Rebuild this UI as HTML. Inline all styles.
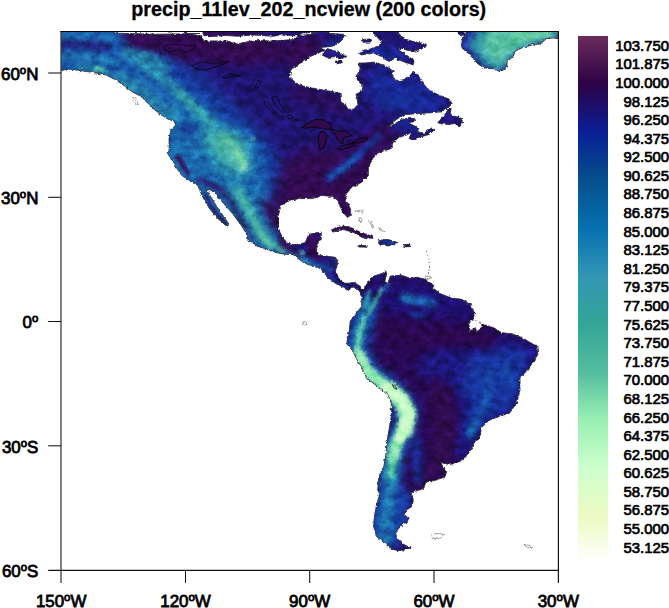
<!DOCTYPE html>
<html><head><meta charset="utf-8"><title>precip_11lev</title>
<style>
html,body{margin:0;padding:0;background:#fff;}
body{width:669px;height:608px;position:relative;overflow:hidden;font-family:"Liberation Sans",sans-serif;color:#000;}
#title{position:absolute;left:0;width:617.5px;top:-0.7px;-webkit-text-stroke:0.3px #000;text-align:center;font-weight:bold;font-size:19.72px;line-height:20px;white-space:nowrap;}
svg{position:absolute;left:0;top:0;}
#cb{position:absolute;left:578px;top:36px;width:30px;height:528px;background:linear-gradient(to bottom,rgb(106, 44, 90) 0.000%,rgb(44, 2, 70) 9.091%,rgb(10, 31, 150) 18.182%,rgb(5, 80, 140) 27.273%,rgb(5, 112, 176) 36.364%,rgb(50, 150, 180) 45.455%,rgb(50, 166, 150) 54.545%,rgb(83, 189, 159) 63.636%,rgb(153, 240, 178) 72.727%,rgb(205, 255, 205) 81.818%,rgb(237, 250, 194) 90.909%,rgb(255, 255, 255) 100.000%);}
.cl{position:absolute;right:0px;width:70px;text-align:right;font-size:14.9px;line-height:18px;height:18px;white-space:nowrap;-webkit-text-stroke:0.7px #000;}
.xl{position:absolute;top:592.7px;width:80px;text-align:center;font-size:16.9px;line-height:18px;white-space:nowrap;-webkit-text-stroke:0.8px #000;}
.d{font-size:0.68em;position:relative;top:-0.5em;}
.yl{position:absolute;left:0;width:38.4px;text-align:right;font-size:16.9px;line-height:18px;white-space:nowrap;-webkit-text-stroke:0.8px #000;}
</style></head><body>
<div id="title">precip_11lev_202_ncview (200 colors)</div>
<svg width="669" height="608" viewBox="0 0 669 608">
<defs><filter id="b1.5" filterUnits="userSpaceOnUse" x="0" y="0" width="669" height="608" color-interpolation-filters="sRGB"><feGaussianBlur stdDeviation="1.5"/></filter><filter id="b2" filterUnits="userSpaceOnUse" x="0" y="0" width="669" height="608" color-interpolation-filters="sRGB"><feGaussianBlur stdDeviation="2"/></filter><filter id="b2.5" filterUnits="userSpaceOnUse" x="0" y="0" width="669" height="608" color-interpolation-filters="sRGB"><feGaussianBlur stdDeviation="2.5"/></filter><filter id="b3" filterUnits="userSpaceOnUse" x="0" y="0" width="669" height="608" color-interpolation-filters="sRGB"><feGaussianBlur stdDeviation="3"/></filter><filter id="b3.5" filterUnits="userSpaceOnUse" x="0" y="0" width="669" height="608" color-interpolation-filters="sRGB"><feGaussianBlur stdDeviation="3.5"/></filter><filter id="b4" filterUnits="userSpaceOnUse" x="0" y="0" width="669" height="608" color-interpolation-filters="sRGB"><feGaussianBlur stdDeviation="4"/></filter><filter id="b5" filterUnits="userSpaceOnUse" x="0" y="0" width="669" height="608" color-interpolation-filters="sRGB"><feGaussianBlur stdDeviation="5"/></filter><filter id="b6" filterUnits="userSpaceOnUse" x="0" y="0" width="669" height="608" color-interpolation-filters="sRGB"><feGaussianBlur stdDeviation="6"/></filter><filter id="b7" filterUnits="userSpaceOnUse" x="0" y="0" width="669" height="608" color-interpolation-filters="sRGB"><feGaussianBlur stdDeviation="7"/></filter><filter id="b8" filterUnits="userSpaceOnUse" x="0" y="0" width="669" height="608" color-interpolation-filters="sRGB"><feGaussianBlur stdDeviation="8"/></filter><filter id="b10" filterUnits="userSpaceOnUse" x="0" y="0" width="669" height="608" color-interpolation-filters="sRGB"><feGaussianBlur stdDeviation="10"/></filter><filter id="b12" filterUnits="userSpaceOnUse" x="0" y="0" width="669" height="608" color-interpolation-filters="sRGB"><feGaussianBlur stdDeviation="12"/></filter>
<filter id="nz" filterUnits="userSpaceOnUse" x="55" y="25" width="510" height="550" color-interpolation-filters="sRGB"><feTurbulence type="fractalNoise" baseFrequency="0.11 0.14" numOctaves="3" seed="7" result="t"/><feColorMatrix in="t" type="matrix" values="0.9 0 0 0 0.05  0.9 0 0 0 0.05  0.9 0 0 0 0.05  0 0 0 0 1"/></filter>
<filter id="jag" filterUnits="userSpaceOnUse" x="55" y="25" width="510" height="550" color-interpolation-filters="sRGB"><feTurbulence type="fractalNoise" baseFrequency="0.35" numOctaves="2" seed="3" result="n"/><feDisplacementMap in="SourceGraphic" in2="n" scale="3.2" xChannelSelector="R" yChannelSelector="G"/></filter>
<clipPath id="land"><path d="M55 25 L55 72.5 L67.6 68.9 L75.9 70.0 L86.4 71.5 L96.9 73.1 L106.3 75.2 L115.7 79.8 L124.1 85.7 L132.4 92.0 L140.8 96.2 L147.1 102.4 L153.4 108.7 L159.6 113.9 L168.0 119.2 L174.3 121.3 L175.3 125.4 L171.1 129.6 L169.1 138.0 L169.1 150.6 L167.2 152.6 L174.5 165.1 L181.9 175.6 L190.2 180.8 L197.5 185.0 L202.4 196.5 L208.6 207.4 L217.0 217.8 L226.8 226.4 L229.1 224.5 L223.7 216.4 L216.4 205.9 L211.2 197.5 L207.4 191.3 L205.9 188.8 L213.2 190.9 L221.2 200.7 L231.4 212.2 L240.9 224.8 L246.7 234.2 L246.7 238.4 L257.2 246.3 L269.7 250.3 L280.8 253.7 L293.3 254.8 L302.3 261.8 L308.4 264.6 L320.9 268.8 L327.2 277.2 L335.6 283.5 L341.9 286.6 L348.1 290.8 L352.3 286.6 L358.6 289.8 L361.7 296.0 L361.7 306.5 L356.5 312.8 L350.2 321.2 L349.2 331.6 L347.1 337.9 L347.1 344.2 L352.3 350.4 L356.5 358.8 L362.8 369.3 L362.0 370.0 L367.2 378.4 L377.7 386.7 L388.1 395.1 L391.3 403.5 L391.3 416.0 L389.2 428.6 L387.1 441.2 L386.0 453.7 L383.9 466.3 L378.7 476.7 L377.7 490.6 L379.8 493.7 L376.6 505.2 L374.5 515.7 L373.5 526.2 L376.6 536.6 L383.9 542.9 L392.3 549.2 L400.7 551.3 L411.2 548.1 L402.8 543.9 L396.5 537.7 L395.5 532.4 L400.7 526.2 L407.0 522.0 L409.1 517.8 L403.8 515.7 L405.9 510.5 L412.2 506.3 L413.2 500.0 L411.2 492.7 L417.4 490.6 L423.7 488.5 L425.8 482.2 L436.3 480.1 L444.6 477.0 L446.7 471.7 L442.5 465.5 L440.4 462.3 L448.8 464.4 L457.2 463.4 L465.6 457.1 L468.7 453.0 L473.9 444.6 L480.2 436.3 L481.3 427.9 L488.6 420.6 L499.1 416.4 L509.5 413.2 L516.8 402.8 L520.0 390.2 L520.0 377.7 L526.3 371.4 L532.5 363.0 L537.8 354.6 L536.7 345.2 L533.0 344.2 L522.5 337.9 L512.1 333.7 L501.6 332.7 L493.2 327.4 L482.8 324.3 L470.2 323.2 L473.4 319.1 L474.4 312.8 L470.2 304.4 L461.9 299.2 L451.4 298.1 L440.9 293.9 L432.6 287.7 L433.9 285.6 L425.6 279.3 L417.2 277.2 L410.9 278.3 L400.4 275.1 L390.0 276.2 L387.9 283.5 L384.8 281.4 L386.8 274.1 L385.8 270.9 L383.7 273.0 L373.2 276.2 L369.1 280.3 L362.8 290.8 L360.7 286.6 L354.4 282.4 L346.0 283.5 L338.7 278.3 L335.6 270.9 L337.7 262.6 L335.6 257.3 L318.8 255.2 L316.7 250.0 L317.1 244.6 L321.3 238.4 L321.3 232.1 L308.7 234.2 L305.6 242.5 L297.2 244.6 L287.8 243.6 L281.5 236.3 L278.4 227.9 L278.4 215.3 L280.5 205.9 L288.8 200.7 L299.3 198.6 L311.9 198.6 L322.3 195.5 L332.8 196.5 L338.0 200.7 L342.2 211.2 L347.4 217.4 L350.6 215.3 L350.6 209.1 L346.4 200.7 L345.3 194.4 L351.6 188.1 L362.1 181.9 L368.4 175.6 L368.4 167.2 L372.5 158.8 L378.8 152.6 L391.4 148.4 L393.5 140.0 L393.8 142.4 L399.2 137.0 L406.4 135.2 L411.7 132.0 L409.1 138.5 L413.5 140.6 L420.7 137.0 L429.7 134.3 L434.2 129.8 L431.5 128.0 L424.3 133.1 L417.1 132.0 L418.9 128.0 L411.7 124.5 L408.2 122.7 L413.5 121.8 L415.3 119.1 L410.0 117.3 L401.0 120.0 L392.0 125.4 L388.4 127.3 L395.6 120.0 L404.6 114.6 L417.1 113.7 L429.7 112.8 L440.4 111.9 L447.6 108.3 L452.1 103.8 L449.4 99.3 L440.4 95.8 L429.7 90.4 L424.3 85.0 L420.4 78.2 L413.3 71.0 L411.5 73.7 L407.9 78.2 L398.9 80.9 L395.3 80.0 L391.7 74.6 L394.4 71.0 L390.9 69.3 L382.8 64.8 L373.8 62.1 L364.8 63.0 L358.6 63.0 L360.4 69.3 L355.9 76.4 L358.6 81.8 L363.0 85.4 L362.2 90.8 L355.9 94.4 L357.0 97.6 L357.9 104.7 L353.5 109.2 L348.1 109.2 L345.4 104.7 L340.9 102.0 L340.0 93.1 L310.6 87.8 L298.0 84.6 L289.6 77.3 L290.7 70.0 L298.0 64.8 L310.6 56.4 L325.0 50.1 L320.0 47.7 L327.2 46.8 L334.3 45.9 L339.7 42.3 L345.1 37.0 L343.3 34.3 L330.8 33.4 L325.4 31.9 L325.4 25.3 L318.9 25.0 L318.9 31.9 L302.2 33.0 L293.8 39.6 L272.9 40.9 L254.1 40.5 L237.3 43.8 L226.9 40.9 L203.8 40.9 L201.7 35.9 L185.0 33.4 L200 33.5 L160 34.2 L115 33.2 L108 25Z M199.6 25.0 L323.1 25.0 L310.6 34.4 L293.8 35.9 L283.4 34.6 L272.9 36.3 L254.1 35.0 L237.3 36.3 L226.9 35.5 L210.1 36.7 L203.8 35.5Z M364.8 25.3 L375.6 35.2 L381.0 41.5 L379.2 45.9 L372.0 48.6 L363.0 50.4 L358.6 53.1 L361.3 54.9 L373.8 53.1 L381.0 56.7 L388.2 61.2 L395.3 58.5 L404.3 62.1 L413.3 64.8 L414.2 60.3 L406.1 54.9 L400.7 51.3 L398.9 47.7 L407.9 50.4 L415.1 51.3 L420.4 49.5 L427.6 45.9 L422.2 43.2 L413.3 41.5 L404.3 38.8 L398.9 33.4 L395.3 25.3Z M321.8 54.9 L327.2 48.6 L336.1 51.3 L346.9 56.7 L341.5 58.5 L334.3 56.7 L327.2 57.6Z M335.2 61.2 L341.5 60.3 L342.4 62.4 L336.1 63.9Z M362.2 39.7 L371.1 38.8 L371.1 42.0 L363.0 42.3Z M437.8 122.7 L444.0 115.5 L448.5 109.2 L451.2 108.3 L450.3 113.7 L454.8 116.4 L460.0 117.3 L462.9 121.8 L460.0 126.6 L454.8 123.6 L447.6 124.5 L440.4 123.6Z M472.4 25.0 L460.9 40.7 L462.0 48.0 L469.3 54.3 L477.7 63.7 L483.9 67.9 L494.4 68.9 L500.7 72.1 L507.0 66.9 L507.0 61.6 L513.2 56.4 L515.3 51.2 L523.7 47.0 L532.1 44.9 L540.4 43.8 L546.7 38.6 L557.2 37.6 L565.6 37.1 L565.6 25.0Z M455.8 25.0 L465.0 25.0 L465.0 35.5 L458.9 34.4Z M331.7 230.0 L339.1 225.8 L349.5 226.8 L360.0 232.1 L372.5 236.3 L373.0 238.4 L362.1 237.5 L353.7 232.5 L343.2 229.4 L332.8 232.1Z M378.8 240.4 L387.2 239.2 L397.7 242.5 L395.6 244.6 L387.2 245.9 L384.1 244.2 L378.8 244.2Z M358.9 245.5 L366.3 245.5 L366.3 247.1 L358.9 247.1Z M403.9 244.6 L409.8 244.6 L409.8 246.7 L403.9 246.7Z"/></clipPath>
<clipPath id="frame"><rect x="61.2" y="31.5" width="497.3" height="539"/></clipPath>
</defs>
<g clip-path="url(#frame)">
<g filter="url(#jag)">
<g clip-path="url(#land)">
<rect x="55" y="25" width="510" height="550" fill="rgb(32,20,112)"/>
<path d="M50 20 L150 20 L172 45 L190 67 L222 94 L251 121 L273 148 L285 180 L282 222 L292 262 L240 262 L150 160 L50 90Z" fill="rgb(22,62,160)" filter="url(#b8)" opacity="1"/><path d="M50 20 L118 20 L140 56 L172 84 L200 104 L190 120 L150 110 L100 90 L50 80Z" fill="rgb(25,86,170)" filter="url(#b6)" opacity="1"/><path d="M170 100 L200 104 L225 122 L246 132 L262 152 L265 182 L270 212 L284 246 L250 250 L160 170Z" fill="rgb(27,106,174)" filter="url(#b6)" opacity="1"/><path d="M56 45 L85 44 L108 48" fill="none" stroke="rgb(34,26,112)" stroke-width="8" stroke-linecap="round" stroke-linejoin="round" filter="url(#b3)" opacity="1"/><path d="M119 28 L172 28 L230 30 L285 38 L290 62 L240 66 L205 62 L172 55 L150 53 L130 49Z" fill="rgb(50,11,80)" filter="url(#b4)" opacity="1"/><path d="M172 52 L190 60" fill="none" stroke="rgb(50,11,80)" stroke-width="8" stroke-linecap="round" stroke-linejoin="round" filter="url(#b4)" opacity="1"/><path d="M283 40 L330 36 L345 50 L322 52 L305 62 L288 70Z" fill="rgb(50,11,80)" filter="url(#b4)" opacity="1"/><path d="M295 92 L325 100 L345 108" fill="none" stroke="rgb(50,11,80)" stroke-width="10" stroke-linecap="round" stroke-linejoin="round" filter="url(#b4)" opacity="1"/><path d="M62 35 L115 36" fill="none" stroke="rgb(30,112,175)" stroke-width="5" stroke-linecap="round" stroke-linejoin="round" filter="url(#b2.5)" opacity="1"/><path d="M62 56 L100 58 L118 62" fill="none" stroke="rgb(32,118,175)" stroke-width="6" stroke-linecap="round" stroke-linejoin="round" filter="url(#b2.5)" opacity="1"/><path d="M78 66 L95 68 L108 72" fill="none" stroke="rgb(40,140,172)" stroke-width="6" stroke-linecap="round" stroke-linejoin="round" filter="url(#b2)" opacity="1"/><path d="M96 68 L103 70" fill="none" stroke="rgb(95,198,165)" stroke-width="3.5" stroke-linecap="round" stroke-linejoin="round" filter="url(#b1.5)" opacity="1"/><path d="M126 54 L150 58 L166 68" fill="none" stroke="rgb(40,140,172)" stroke-width="9" stroke-linecap="round" stroke-linejoin="round" filter="url(#b3)" opacity="1"/><path d="M118 78 L140 90 L160 108 L172 118" fill="none" stroke="rgb(40,140,172)" stroke-width="12" stroke-linecap="round" stroke-linejoin="round" filter="url(#b4)" opacity="1"/><path d="M140 62 L162 78 L189 102 L213 126" fill="none" stroke="rgb(40,140,172)" stroke-width="11" stroke-linecap="round" stroke-linejoin="round" filter="url(#b3.5)" opacity="1"/><path d="M176 90 L190 103 L202 114 L212 124" fill="none" stroke="rgb(58,162,170)" stroke-width="5.5" stroke-linecap="round" stroke-linejoin="round" filter="url(#b2.5)" opacity="1"/><path d="M200 128 L226 126 L248 140 L252 170 L240 182 L218 172 L204 150Z" fill="rgb(40,140,172)" filter="url(#b5)" opacity="1"/><path d="M206 134 L226 132 L240 140 L248 160 L244 172 L230 166 L215 152Z" fill="rgb(75,180,165)" filter="url(#b4)" opacity="1"/><path d="M236 152 L242 160 L244 168" fill="none" stroke="rgb(150,232,180)" stroke-width="6" stroke-linecap="round" stroke-linejoin="round" filter="url(#b2.5)" opacity="1"/><path d="M225 138 L232 144" fill="none" stroke="rgb(110,210,170)" stroke-width="4" stroke-linecap="round" stroke-linejoin="round" filter="url(#b2)" opacity="1"/><path d="M252 138 L253 140" fill="none" stroke="rgb(90,190,170)" stroke-width="3" stroke-linecap="round" stroke-linejoin="round" filter="url(#b1.5)" opacity="1"/><path d="M182 128 L192 131" fill="none" stroke="rgb(24,40,140)" stroke-width="7" stroke-linecap="round" stroke-linejoin="round" filter="url(#b3)" opacity="1"/><path d="M178 157 L183 165 L188 173" fill="none" stroke="rgb(50,11,80)" stroke-width="4.5" stroke-linecap="round" stroke-linejoin="round" filter="url(#b1.5)" opacity="1"/><path d="M200 180 L215 186 L228 196 L240 215 L254 238" fill="none" stroke="rgb(40,18,95)" stroke-width="6" stroke-linecap="round" stroke-linejoin="round" filter="url(#b2.5)" opacity="1"/><path d="M205 195 L215 212 L226 225" fill="none" stroke="rgb(40,18,95)" stroke-width="3" stroke-linecap="round" stroke-linejoin="round" filter="url(#b1.5)" opacity="1"/><path d="M234 188 L246 205 L256 225 L266 242" fill="none" stroke="rgb(40,140,172)" stroke-width="14" stroke-linecap="round" stroke-linejoin="round" filter="url(#b4)" opacity="1"/><path d="M238 192 L250 212 L260 232 L270 244 L286 252" fill="none" stroke="rgb(75,180,165)" stroke-width="7" stroke-linecap="round" stroke-linejoin="round" filter="url(#b2.5)" opacity="1"/><path d="M262 236 L268 243" fill="none" stroke="rgb(110,210,170)" stroke-width="4" stroke-linecap="round" stroke-linejoin="round" filter="url(#b2)" opacity="1"/><path d="M286 160 L305 150 L335 150 L360 140 L392 126 L402 135 L380 160 L360 200 L340 215 L300 215 L282 235 L270 215 L276 185Z" fill="rgb(50,11,80)" filter="url(#b7)" opacity="1"/><path d="M362 141 L395 122" fill="none" stroke="rgb(50,11,80)" stroke-width="4" stroke-linecap="round" stroke-linejoin="round" filter="url(#b2)" opacity="1"/><path d="M300 100 L330 108 L350 100" fill="none" stroke="rgb(38,16,95)" stroke-width="10" stroke-linecap="round" stroke-linejoin="round" filter="url(#b5)" opacity="1"/><path d="M268 205 L280 225" fill="none" stroke="rgb(50,11,80)" stroke-width="12" stroke-linecap="round" stroke-linejoin="round" filter="url(#b5)" opacity="1"/><path d="M350 95 L385 100 L420 122 L450 108 L425 82 L398 75 L372 66 L366 92Z" fill="rgb(24,40,150)" filter="url(#b6)" opacity="1"/><path d="M330 45 L400 55" fill="none" stroke="rgb(24,38,148)" stroke-width="14" stroke-linecap="round" stroke-linejoin="round" filter="url(#b5)" opacity="1"/><path d="M395 122 L432 130" fill="none" stroke="rgb(24,38,148)" stroke-width="9" stroke-linecap="round" stroke-linejoin="round" filter="url(#b3)" opacity="1"/><path d="M380 105 L410 100" fill="none" stroke="rgb(22,55,160)" stroke-width="8" stroke-linecap="round" stroke-linejoin="round" filter="url(#b4)" opacity="1"/><path d="M328 178 L345 167 L357 156" fill="none" stroke="rgb(24,50,155)" stroke-width="8" stroke-linecap="round" stroke-linejoin="round" filter="url(#b3)" opacity="1"/><path d="M330 177 L345 167 L357 156" fill="none" stroke="rgb(22,88,172)" stroke-width="4" stroke-linecap="round" stroke-linejoin="round" filter="url(#b1.5)" opacity="1"/><path d="M357 156 L368 146 L379 136" fill="none" stroke="rgb(24,55,160)" stroke-width="6" stroke-linecap="round" stroke-linejoin="round" filter="url(#b2.5)" opacity="1"/><path d="M284 212 L283 240 L295 258 L305 262" fill="none" stroke="rgb(50,11,80)" stroke-width="8" stroke-linecap="round" stroke-linejoin="round" filter="url(#b2.5)" opacity="1"/><path d="M312 238 L316 256" fill="none" stroke="rgb(50,11,80)" stroke-width="13" stroke-linecap="round" stroke-linejoin="round" filter="url(#b2.5)" opacity="1"/><path d="M345 193 L350 215" fill="none" stroke="rgb(50,11,80)" stroke-width="10" stroke-linecap="round" stroke-linejoin="round" filter="url(#b3)" opacity="1"/><path d="M333 228 L350 227 L372 236" fill="none" stroke="rgb(52,14,84)" stroke-width="9" stroke-linecap="round" stroke-linejoin="round" filter="url(#b1.5)" opacity="1"/><path d="M384 242 L393 243" fill="none" stroke="rgb(24,70,165)" stroke-width="4" stroke-linecap="round" stroke-linejoin="round" filter="url(#b1.5)" opacity="1"/><path d="M306 261 L320 266 L331 269" fill="none" stroke="rgb(25,80,168)" stroke-width="6" stroke-linecap="round" stroke-linejoin="round" filter="url(#b2)" opacity="1"/><path d="M335 258 L337 274" fill="none" stroke="rgb(50,11,80)" stroke-width="4" stroke-linecap="round" stroke-linejoin="round" filter="url(#b1.5)" opacity="1"/><path d="M288 254 L305 262 L322 276" fill="none" stroke="rgb(34,125,172)" stroke-width="5" stroke-linecap="round" stroke-linejoin="round" filter="url(#b2)" opacity="1"/><path d="M322 276 L335 286 L352 296" fill="none" stroke="rgb(26,85,168)" stroke-width="5" stroke-linecap="round" stroke-linejoin="round" filter="url(#b2)" opacity="1"/><path d="M300 252 L304 254" fill="none" stroke="rgb(80,185,165)" stroke-width="3" stroke-linecap="round" stroke-linejoin="round" filter="url(#b1.5)" opacity="1"/><path d="M330 252 L340 268" fill="none" stroke="rgb(24,50,150)" stroke-width="5" stroke-linecap="round" stroke-linejoin="round" filter="url(#b2.5)" opacity="1"/><path d="M466 31 L458 42 L462 50 L470 57 L480 66 L494 70 L502 73 L510 66 L516 52 L540 44 L560 38 L560 31Z" fill="rgb(32,50,150)" filter="url(#b2)" opacity="1"/><path d="M477 29 L469 45 L477 58 L489 68 L501 72 L508 63 L513 53 L523 48 L545 41 L560 36 L560 29Z" fill="rgb(50,150,170)" filter="url(#b3)" opacity="1"/><path d="M488 27 L482 45 L489 58 L500 65 L509 54 L522 45 L545 38 L560 31 L560 27Z" fill="rgb(88,192,162)" filter="url(#b3.5)" opacity="1"/><path d="M515 35 L548 33" fill="none" stroke="rgb(118,215,170)" stroke-width="6" stroke-linecap="round" stroke-linejoin="round" filter="url(#b3)" opacity="1"/><path d="M362 285 L420 274 L470 300 L480 322 L540 342 L540 360 L522 382 L518 412 L482 432 L458 468 L425 492 L412 545 L378 550 L372 480 L388 420 L386 398 L360 374 L345 340Z" fill="rgb(40,9,84)" filter="url(#b5)" opacity="1"/><path d="M366 288 L420 278 L470 300 L478 318 L455 322 L430 316 L400 314 L378 312Z" fill="rgb(30,16,112)" filter="url(#b5)" opacity="1"/><path d="M447 348 L470 350 L500 336 L538 344 L540 360 L522 382 L518 412 L482 432 L462 462 L452 448 L462 425 L456 392 L436 372 L425 380 L416 368 L425 354Z" fill="rgb(28,24,128)" filter="url(#b5)" opacity="1"/><path d="M470 356 L500 350 L528 352 L520 385 L512 408 L485 418 L472 440 L464 432 L472 402 L460 385Z" fill="rgb(23,52,156)" filter="url(#b5)" opacity="1"/><path d="M490 375 L486 400 L476 422 L470 436" fill="none" stroke="rgb(22,80,166)" stroke-width="7" stroke-linecap="round" stroke-linejoin="round" filter="url(#b3)" opacity="1"/><path d="M474 424 L470 434" fill="none" stroke="rgb(28,110,172)" stroke-width="4" stroke-linecap="round" stroke-linejoin="round" filter="url(#b2)" opacity="1"/><path d="M505 365 L512 385" fill="none" stroke="rgb(22,72,164)" stroke-width="6" stroke-linecap="round" stroke-linejoin="round" filter="url(#b3)" opacity="1"/><path d="M385 328 L420 338 L465 335 L490 340" fill="none" stroke="rgb(42,8,75)" stroke-width="16" stroke-linecap="round" stroke-linejoin="round" filter="url(#b5)" opacity="1"/><path d="M440 395 L445 430 L438 465" fill="none" stroke="rgb(48,12,78)" stroke-width="22" stroke-linecap="round" stroke-linejoin="round" filter="url(#b5)" opacity="1"/><path d="M430 470 L418 488" fill="none" stroke="rgb(48,12,78)" stroke-width="10" stroke-linecap="round" stroke-linejoin="round" filter="url(#b3)" opacity="1"/><path d="M404 297 L414 300 L432 303" fill="none" stroke="rgb(26,100,174)" stroke-width="8" stroke-linecap="round" stroke-linejoin="round" filter="url(#b2.5)" opacity="1"/><path d="M405 298 L410 300" fill="none" stroke="rgb(32,125,178)" stroke-width="5" stroke-linecap="round" stroke-linejoin="round" filter="url(#b2)" opacity="1"/><path d="M412 314 L424 316" fill="none" stroke="rgb(24,58,158)" stroke-width="5" stroke-linecap="round" stroke-linejoin="round" filter="url(#b2.5)" opacity="1"/><path d="M378 486 L412 492 L410 525 L398 548 L372 535Z" fill="rgb(23,56,160)" filter="url(#b4)" opacity="1"/><path d="M416 440 L418 480" fill="none" stroke="rgb(22,50,155)" stroke-width="8" stroke-linecap="round" stroke-linejoin="round" filter="url(#b3)" opacity="1"/><path d="M366 308 L361 328 L357 350 L366 372 L382 384 L398 397 L407 412 L403 430 L395 446 L392 462 L390 480 L389 500 L386 520 L385 538" fill="none" stroke="rgb(22,72,165)" stroke-width="24" stroke-linecap="round" stroke-linejoin="round" filter="url(#b4)" opacity="1"/><path d="M361 328 L357 350 L366 372" fill="none" stroke="rgb(45,150,168)" stroke-width="9" stroke-linecap="round" stroke-linejoin="round" filter="url(#b2.5)" opacity="1"/><path d="M366 372 L382 384 L398 397 L407 412 L403 430 L395 446 L392 462 L390 480" fill="none" stroke="rgb(45,150,168)" stroke-width="13" stroke-linecap="round" stroke-linejoin="round" filter="url(#b2.5)" opacity="1"/><path d="M366 308 L361 328" fill="none" stroke="rgb(40,135,170)" stroke-width="7" stroke-linecap="round" stroke-linejoin="round" filter="url(#b2.5)" opacity="1"/><path d="M390 480 L389 500 L386 520 L385 538" fill="none" stroke="rgb(32,122,175)" stroke-width="11" stroke-linecap="round" stroke-linejoin="round" filter="url(#b3)" opacity="1"/><path d="M364 318 L360 332 L357 350" fill="none" stroke="rgb(95,200,170)" stroke-width="4" stroke-linecap="round" stroke-linejoin="round" filter="url(#b1.5)" opacity="1"/><path d="M357 350 L367 372 L382 384" fill="none" stroke="rgb(125,222,176)" stroke-width="5.5" stroke-linecap="round" stroke-linejoin="round" filter="url(#b1.5)" opacity="1"/><path d="M360 356 L366 370 L382 384 L399 397 L408 412 L404 428 L396 445 L393 458" fill="none" stroke="rgb(150,235,180)" stroke-width="11" stroke-linecap="round" stroke-linejoin="round" filter="url(#b2)" opacity="1"/><path d="M390 390 L401 400 L408 414 L405 430" fill="none" stroke="rgb(165,240,185)" stroke-width="16" stroke-linecap="round" stroke-linejoin="round" filter="url(#b2)" opacity="1"/><path d="M386 387 L401 399 L409 413 L405 428 L400 438" fill="none" stroke="rgb(200,250,198)" stroke-width="9.5" stroke-linecap="round" stroke-linejoin="round" filter="url(#b1.5)" opacity="1"/><path d="M393 458 L391 476" fill="none" stroke="rgb(100,210,170)" stroke-width="5" stroke-linecap="round" stroke-linejoin="round" filter="url(#b1.5)" opacity="1"/><path d="M382 289 L375 302 L368 314" fill="none" stroke="rgb(70,180,165)" stroke-width="3.5" stroke-linecap="round" stroke-linejoin="round" filter="url(#b1.5)" opacity="1"/><path d="M369 292 L365 308" fill="none" stroke="rgb(45,145,170)" stroke-width="4" stroke-linecap="round" stroke-linejoin="round" filter="url(#b1.5)" opacity="1"/><path d="M388 284 L384 290" fill="none" stroke="rgb(30,100,170)" stroke-width="4" stroke-linecap="round" stroke-linejoin="round" filter="url(#b2)" opacity="1"/>
<rect x="55" y="25" width="510" height="550" filter="url(#nz)" opacity="0.55" style="mix-blend-mode:overlay"/>
</g>
<path d="M301.3 127.5 L308.1 123.5 L316.1 119.4 L324.2 120.1 L329.6 123.5 L332.3 128.8 L326.9 129.5 L320.2 128.2 L313.5 126.8 L306.7 128.2Z" fill="rgb(50,10,80)" stroke="#0a0612" stroke-width="0.6"/><path d="M320.2 131.5 L324.9 132.2 L326.9 135.6 L325.6 142.3 L323.5 148.3 L320.2 149.0 L318.2 143.6 L318.8 136.9Z" fill="rgb(50,10,80)" stroke="#0a0612" stroke-width="0.6"/><path d="M332.3 129.5 L340.4 131.5 L347.1 130.9 L351.8 135.6 L347.1 136.9 L343.0 138.3 L343.0 143.0 L340.4 143.6 L337.0 138.9 L335.0 134.2 L331.6 132.2Z" fill="rgb(50,10,80)" stroke="#0a0612" stroke-width="0.6"/><path d="M337.0 148.3 L344.4 145.0 L355.2 143.0 L354.5 145.0 L347.1 148.3 L340.4 149.7Z" fill="rgb(50,10,80)" stroke="#0a0612" stroke-width="0.6"/><path d="M352.5 141.6 L359.2 138.9 L367.9 137.6 L367.3 139.9 L359.2 142.3 L353.8 142.6Z" fill="rgb(50,10,80)" stroke="#0a0612" stroke-width="0.6"/>
<path d="M55 25 L55 72.5 L67.6 68.9 L75.9 70.0 L86.4 71.5 L96.9 73.1 L106.3 75.2 L115.7 79.8 L124.1 85.7 L132.4 92.0 L140.8 96.2 L147.1 102.4 L153.4 108.7 L159.6 113.9 L168.0 119.2 L174.3 121.3 L175.3 125.4 L171.1 129.6 L169.1 138.0 L169.1 150.6 L167.2 152.6 L174.5 165.1 L181.9 175.6 L190.2 180.8 L197.5 185.0 L202.4 196.5 L208.6 207.4 L217.0 217.8 L226.8 226.4 L229.1 224.5 L223.7 216.4 L216.4 205.9 L211.2 197.5 L207.4 191.3 L205.9 188.8 L213.2 190.9 L221.2 200.7 L231.4 212.2 L240.9 224.8 L246.7 234.2 L246.7 238.4 L257.2 246.3 L269.7 250.3 L280.8 253.7 L293.3 254.8 L302.3 261.8 L308.4 264.6 L320.9 268.8 L327.2 277.2 L335.6 283.5 L341.9 286.6 L348.1 290.8 L352.3 286.6 L358.6 289.8 L361.7 296.0 L361.7 306.5 L356.5 312.8 L350.2 321.2 L349.2 331.6 L347.1 337.9 L347.1 344.2 L352.3 350.4 L356.5 358.8 L362.8 369.3 L362.0 370.0 L367.2 378.4 L377.7 386.7 L388.1 395.1 L391.3 403.5 L391.3 416.0 L389.2 428.6 L387.1 441.2 L386.0 453.7 L383.9 466.3 L378.7 476.7 L377.7 490.6 L379.8 493.7 L376.6 505.2 L374.5 515.7 L373.5 526.2 L376.6 536.6 L383.9 542.9 L392.3 549.2 L400.7 551.3 L411.2 548.1 L402.8 543.9 L396.5 537.7 L395.5 532.4 L400.7 526.2 L407.0 522.0 L409.1 517.8 L403.8 515.7 L405.9 510.5 L412.2 506.3 L413.2 500.0 L411.2 492.7 L417.4 490.6 L423.7 488.5 L425.8 482.2 L436.3 480.1 L444.6 477.0 L446.7 471.7 L442.5 465.5 L440.4 462.3 L448.8 464.4 L457.2 463.4 L465.6 457.1 L468.7 453.0 L473.9 444.6 L480.2 436.3 L481.3 427.9 L488.6 420.6 L499.1 416.4 L509.5 413.2 L516.8 402.8 L520.0 390.2 L520.0 377.7 L526.3 371.4 L532.5 363.0 L537.8 354.6 L536.7 345.2 L533.0 344.2 L522.5 337.9 L512.1 333.7 L501.6 332.7 L493.2 327.4 L482.8 324.3 L470.2 323.2 L473.4 319.1 L474.4 312.8 L470.2 304.4 L461.9 299.2 L451.4 298.1 L440.9 293.9 L432.6 287.7 L433.9 285.6 L425.6 279.3 L417.2 277.2 L410.9 278.3 L400.4 275.1 L390.0 276.2 L387.9 283.5 L384.8 281.4 L386.8 274.1 L385.8 270.9 L383.7 273.0 L373.2 276.2 L369.1 280.3 L362.8 290.8 L360.7 286.6 L354.4 282.4 L346.0 283.5 L338.7 278.3 L335.6 270.9 L337.7 262.6 L335.6 257.3 L318.8 255.2 L316.7 250.0 L317.1 244.6 L321.3 238.4 L321.3 232.1 L308.7 234.2 L305.6 242.5 L297.2 244.6 L287.8 243.6 L281.5 236.3 L278.4 227.9 L278.4 215.3 L280.5 205.9 L288.8 200.7 L299.3 198.6 L311.9 198.6 L322.3 195.5 L332.8 196.5 L338.0 200.7 L342.2 211.2 L347.4 217.4 L350.6 215.3 L350.6 209.1 L346.4 200.7 L345.3 194.4 L351.6 188.1 L362.1 181.9 L368.4 175.6 L368.4 167.2 L372.5 158.8 L378.8 152.6 L391.4 148.4 L393.5 140.0 L393.8 142.4 L399.2 137.0 L406.4 135.2 L411.7 132.0 L409.1 138.5 L413.5 140.6 L420.7 137.0 L429.7 134.3 L434.2 129.8 L431.5 128.0 L424.3 133.1 L417.1 132.0 L418.9 128.0 L411.7 124.5 L408.2 122.7 L413.5 121.8 L415.3 119.1 L410.0 117.3 L401.0 120.0 L392.0 125.4 L388.4 127.3 L395.6 120.0 L404.6 114.6 L417.1 113.7 L429.7 112.8 L440.4 111.9 L447.6 108.3 L452.1 103.8 L449.4 99.3 L440.4 95.8 L429.7 90.4 L424.3 85.0 L420.4 78.2 L413.3 71.0 L411.5 73.7 L407.9 78.2 L398.9 80.9 L395.3 80.0 L391.7 74.6 L394.4 71.0 L390.9 69.3 L382.8 64.8 L373.8 62.1 L364.8 63.0 L358.6 63.0 L360.4 69.3 L355.9 76.4 L358.6 81.8 L363.0 85.4 L362.2 90.8 L355.9 94.4 L357.0 97.6 L357.9 104.7 L353.5 109.2 L348.1 109.2 L345.4 104.7 L340.9 102.0 L340.0 93.1 L310.6 87.8 L298.0 84.6 L289.6 77.3 L290.7 70.0 L298.0 64.8 L310.6 56.4 L325.0 50.1 L320.0 47.7 L327.2 46.8 L334.3 45.9 L339.7 42.3 L345.1 37.0 L343.3 34.3 L330.8 33.4 L325.4 31.9 L325.4 25.3 L318.9 25.0 L318.9 31.9 L302.2 33.0 L293.8 39.6 L272.9 40.9 L254.1 40.5 L237.3 43.8 L226.9 40.9 L203.8 40.9 L201.7 35.9 L185.0 33.4 L200 33.5 L160 34.2 L115 33.2 L108 25Z M199.6 25.0 L323.1 25.0 L310.6 34.4 L293.8 35.9 L283.4 34.6 L272.9 36.3 L254.1 35.0 L237.3 36.3 L226.9 35.5 L210.1 36.7 L203.8 35.5Z M364.8 25.3 L375.6 35.2 L381.0 41.5 L379.2 45.9 L372.0 48.6 L363.0 50.4 L358.6 53.1 L361.3 54.9 L373.8 53.1 L381.0 56.7 L388.2 61.2 L395.3 58.5 L404.3 62.1 L413.3 64.8 L414.2 60.3 L406.1 54.9 L400.7 51.3 L398.9 47.7 L407.9 50.4 L415.1 51.3 L420.4 49.5 L427.6 45.9 L422.2 43.2 L413.3 41.5 L404.3 38.8 L398.9 33.4 L395.3 25.3Z M321.8 54.9 L327.2 48.6 L336.1 51.3 L346.9 56.7 L341.5 58.5 L334.3 56.7 L327.2 57.6Z M335.2 61.2 L341.5 60.3 L342.4 62.4 L336.1 63.9Z M362.2 39.7 L371.1 38.8 L371.1 42.0 L363.0 42.3Z M437.8 122.7 L444.0 115.5 L448.5 109.2 L451.2 108.3 L450.3 113.7 L454.8 116.4 L460.0 117.3 L462.9 121.8 L460.0 126.6 L454.8 123.6 L447.6 124.5 L440.4 123.6Z M472.4 25.0 L460.9 40.7 L462.0 48.0 L469.3 54.3 L477.7 63.7 L483.9 67.9 L494.4 68.9 L500.7 72.1 L507.0 66.9 L507.0 61.6 L513.2 56.4 L515.3 51.2 L523.7 47.0 L532.1 44.9 L540.4 43.8 L546.7 38.6 L557.2 37.6 L565.6 37.1 L565.6 25.0Z M455.8 25.0 L465.0 25.0 L465.0 35.5 L458.9 34.4Z M331.7 230.0 L339.1 225.8 L349.5 226.8 L360.0 232.1 L372.5 236.3 L373.0 238.4 L362.1 237.5 L353.7 232.5 L343.2 229.4 L332.8 232.1Z M378.8 240.4 L387.2 239.2 L397.7 242.5 L395.6 244.6 L387.2 245.9 L384.1 244.2 L378.8 244.2Z M358.9 245.5 L366.3 245.5 L366.3 247.1 L358.9 247.1Z M403.9 244.6 L409.8 244.6 L409.8 246.7 L403.9 246.7Z" fill="none" stroke="#2c2c38" stroke-width="0.85" stroke-linejoin="round"/>
<path d="M426.3 251.0 L428.4 256.3 L429.6 264.6 L428.8 273.0 L427.1 276.4" fill="none" stroke="#555" stroke-width="0.9" stroke-dasharray="1.2 2.6"/><path d="M131.4 97.2 L135.6 98.2 L138.3 104.9 L135.6 103.5Z" fill="#fff" stroke="#555" stroke-width="0.55"/><path d="M430 536 L436 533.5 L443.5 534 L441 538 L434 538.7Z" fill="#fff" stroke="#555" stroke-width="0.55"/><path d="M524 544 L528 545 L531.5 547.5 L529 548 L525 546Z" fill="#fff" stroke="#555" stroke-width="0.55"/><path d="M354.8 211.2 L362.1 210.1 L363.8 214.3 L360.0 212.2Z" fill="#fff" stroke="#555" stroke-width="0.55"/><path d="M358.9 217.4 L362.1 218.5 L361.0 222.7 L359.6 221.6Z" fill="#fff" stroke="#555" stroke-width="0.55"/><path d="M368.4 220.6 L371.5 222.7 L374.6 227.9 L372.5 226.8Z" fill="#fff" stroke="#555" stroke-width="0.55"/><path d="M378.8 227.9 L384.1 230.4 L385.1 232.1 L379.9 230.0Z" fill="#fff" stroke="#555" stroke-width="0.55"/><path d="M303 322 L306 321.5 L307 324.5 L304 325Z" fill="#fff" stroke="#555" stroke-width="0.55"/><path d="M425.2 276.8 L430.5 276.4 L430.0 278.9 L425.9 279.3Z" fill="#fff" stroke="#555" stroke-width="0.55"/><path d="M470.2 321.2 L474.8 320.1 L481.7 323.7 L480.7 329.1 L476.5 331.2 L475.5 327.4 L470.2 330.6 L469.4 325.3Z" fill="#fff" stroke="#555" stroke-width="0.55"/>
</g>
<path d="M164 46 L172 44 L184 45 L196 46 L193 50 L186 52 L178 49 L170 52 L165 50Z" fill="none" stroke="#0a0612" stroke-width="0.75"/><path d="M191.3 65.8 L201.7 61.6 L212.2 63.7 L230.0 61.6 L218.5 65.8 L205.9 70.0 L197.6 68.9Z" fill="none" stroke="#0a0612" stroke-width="0.75"/><path d="M221.6 77.3 L230.0 74.2 L241.5 75.9 L231.0 76.9 L224.8 78.4Z" fill="none" stroke="#0a0612" stroke-width="0.75"/><path d="M255.1 87.8 L258.2 80.5 L261.4 81.5 L258.2 87.8Z" fill="none" stroke="#0a0612" stroke-width="0.75"/><path d="M263.5 101.4 L267.7 102.4 L271.8 108.7 L276.0 112.9 L273.9 113.9 L268.7 108.7 L265.6 105.6Z" fill="none" stroke="#0a0612" stroke-width="0.75"/><path d="M271.8 97.2 L277.1 96.2 L280.2 104.5 L284.4 110.8 L282.3 112.9 L278.1 107.7 L273.9 102.4Z" fill="none" stroke="#0a0612" stroke-width="0.75"/><path d="M287.5 116.0 L291.7 115.4 L292.8 118.1 L288.6 118.8Z" fill="none" stroke="#0a0612" stroke-width="0.75"/><path d="M294.9 119.2 L299.1 119.6 L299.1 120.8 L294.9 120.4Z" fill="none" stroke="#0a0612" stroke-width="0.75"/><path d="M392.3 384.6 L395.5 386.3 L396.9 389.3 L394.0 388.0Z" fill="none" stroke="#0a0612" stroke-width="0.75"/><path d="M301.3 127.5 L308.1 123.5 L316.1 119.4 L324.2 120.1 L329.6 123.5 L332.3 128.8 L326.9 129.5 L320.2 128.2 L313.5 126.8 L306.7 128.2Z" fill="none" stroke="#0a0612" stroke-width="0.75"/><path d="M320.2 131.5 L324.9 132.2 L326.9 135.6 L325.6 142.3 L323.5 148.3 L320.2 149.0 L318.2 143.6 L318.8 136.9Z" fill="none" stroke="#0a0612" stroke-width="0.75"/><path d="M332.3 129.5 L340.4 131.5 L347.1 130.9 L351.8 135.6 L347.1 136.9 L343.0 138.3 L343.0 143.0 L340.4 143.6 L337.0 138.9 L335.0 134.2 L331.6 132.2Z" fill="none" stroke="#0a0612" stroke-width="0.75"/><path d="M337.0 148.3 L344.4 145.0 L355.2 143.0 L354.5 145.0 L347.1 148.3 L340.4 149.7Z" fill="none" stroke="#0a0612" stroke-width="0.75"/><path d="M352.5 141.6 L359.2 138.9 L367.9 137.6 L367.3 139.9 L359.2 142.3 L353.8 142.6Z" fill="none" stroke="#0a0612" stroke-width="0.75"/>
</g>
<g stroke="#111" stroke-width="1.05" fill="none">
<line x1="61.0" y1="31" x2="61.0" y2="583"/>
<line x1="558.4" y1="31" x2="558.4" y2="583" stroke-width="1.2"/>
<line x1="48.2" y1="570.4" x2="559" y2="570.4" stroke-width="1.3"/>
<line x1="185.5" y1="570.5" x2="185.5" y2="583"/><line x1="309.7" y1="570.5" x2="309.7" y2="583"/><line x1="434" y1="570.5" x2="434" y2="583"/><line x1="48.2" y1="73" x2="61.2" y2="73"/><line x1="48.2" y1="197.3" x2="61.2" y2="197.3"/><line x1="48.2" y1="321.5" x2="61.2" y2="321.5"/><line x1="48.2" y1="445.8" x2="61.2" y2="445.8"/>
</g>
<line x1="60.5" y1="31.5" x2="559" y2="31.5" stroke="#000" stroke-width="1.2"/>
</svg>
<div id="cb"></div>
<div class="cl" style="top:36.80px">103.750</div><div class="cl" style="top:55.38px">101.875</div><div class="cl" style="top:73.97px">100.000</div><div class="cl" style="top:92.56px">98.125</div><div class="cl" style="top:111.14px">96.250</div><div class="cl" style="top:129.73px">94.375</div><div class="cl" style="top:148.31px">92.500</div><div class="cl" style="top:166.89px">90.625</div><div class="cl" style="top:185.48px">88.750</div><div class="cl" style="top:204.06px">86.875</div><div class="cl" style="top:222.65px">85.000</div><div class="cl" style="top:241.24px">83.125</div><div class="cl" style="top:259.82px">81.250</div><div class="cl" style="top:278.41px">79.375</div><div class="cl" style="top:296.99px">77.500</div><div class="cl" style="top:315.58px">75.625</div><div class="cl" style="top:334.16px">73.750</div><div class="cl" style="top:352.75px">71.875</div><div class="cl" style="top:371.33px">70.000</div><div class="cl" style="top:389.92px">68.125</div><div class="cl" style="top:408.50px">66.250</div><div class="cl" style="top:427.09px">64.375</div><div class="cl" style="top:445.67px">62.500</div><div class="cl" style="top:464.26px">60.625</div><div class="cl" style="top:482.84px">58.750</div><div class="cl" style="top:501.43px">56.875</div><div class="cl" style="top:520.01px">55.000</div><div class="cl" style="top:538.60px">53.125</div>
<div class="xl" style="left:21.200000000000003px">150<span class="d">o</span>W</div><div class="xl" style="left:145.5px">120<span class="d">o</span>W</div><div class="xl" style="left:269.7px">90<span class="d">o</span>W</div><div class="xl" style="left:394px">60<span class="d">o</span>W</div><div class="xl" style="left:518.3px">30<span class="d">o</span>W</div>
<div class="yl" style="top:65.7px">60<span class="d">o</span>N</div><div class="yl" style="top:190.0px">30<span class="d">o</span>N</div><div class="yl" style="top:314.2px">0<span class="d">o</span></div><div class="yl" style="top:438.5px">30<span class="d">o</span>S</div><div class="yl" style="top:562.9px">60<span class="d">o</span>S</div>
</body></html>
